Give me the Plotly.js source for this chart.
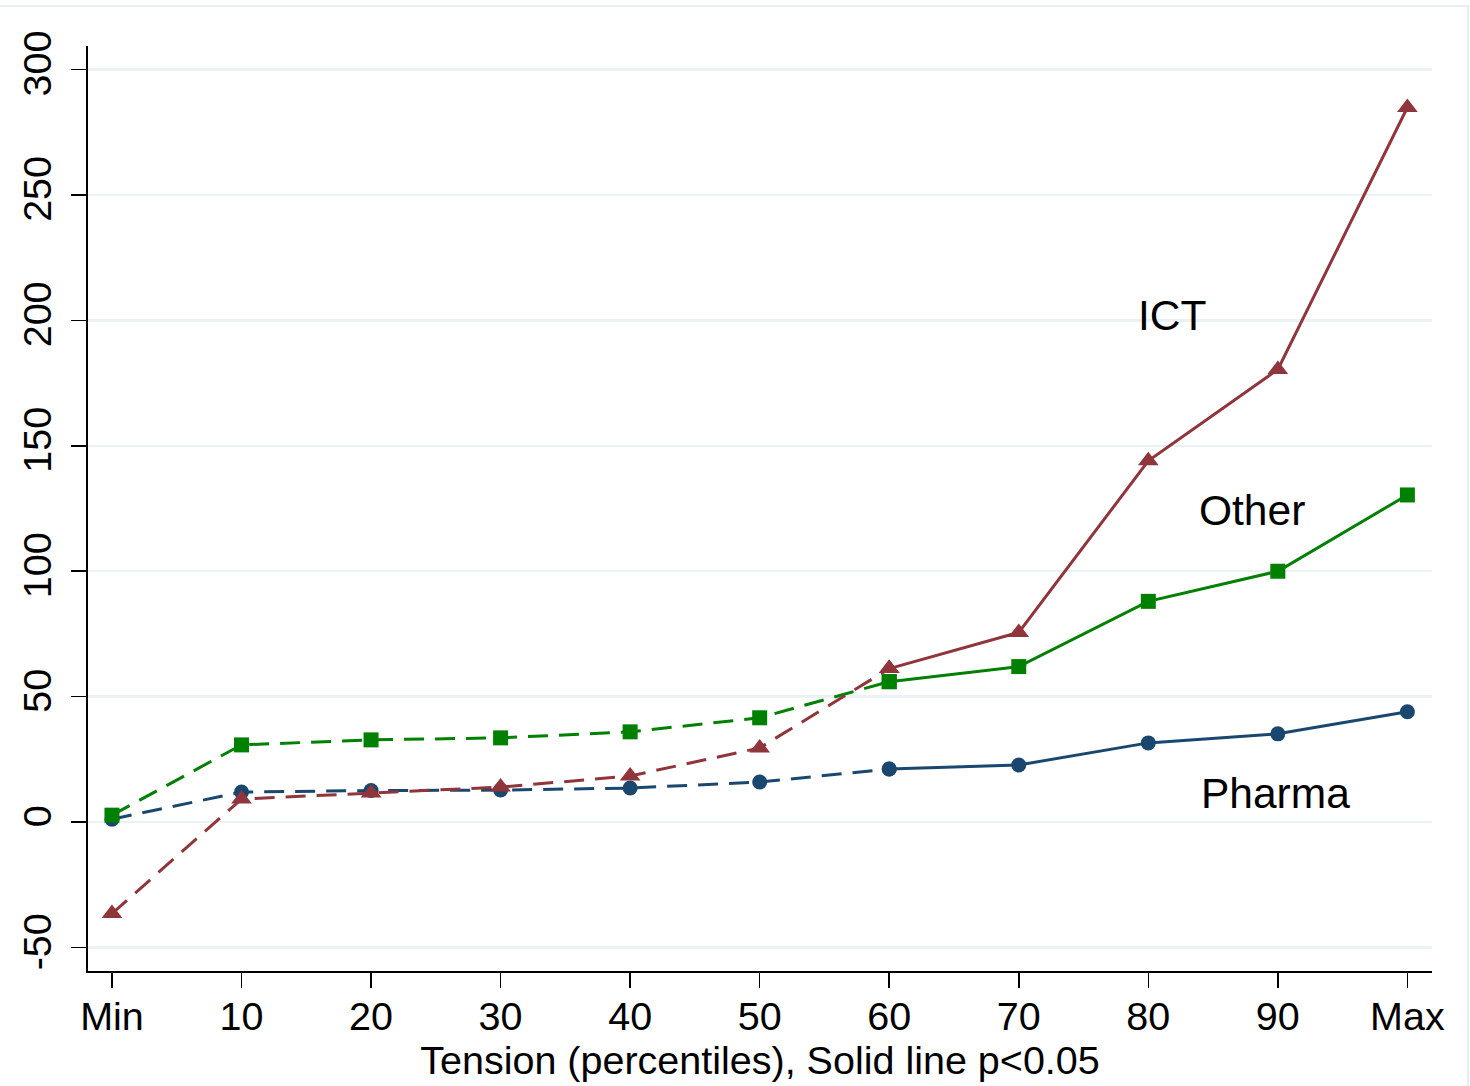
<!DOCTYPE html>
<html>
<head>
<meta charset="utf-8">
<script src="https://cdn.plot.ly/plotly-3.0.1.min.js"></script>
<style>
html,body{margin:0;padding:0;background:#fff;}
#chart{width:1470px;height:1086px;}
</style>
</head>
<body>
<div id="chart"></div>
<script>
// Data
const categories = ["Min","10","20","30","40","50","60","70","80","90","Max"];
const pharma = [1.2, 12, 12.6, 12.8, 13.6, 16, 21.2, 22.8, 31.6, 35.2, 44];
const other  = [2.8, 30.8, 32.8, 33.6, 36, 41.6, 56, 62, 88, 100, 130.4];
const ict    = [-36.4, 9.2, 11.6, 14, 18.4, 29.6, 61.2, 75.6, 144, 180.4, 284.8];
// index where significance (solid line) begins
const solidFrom = 6;
const labels = [
  {text: "ICT", x: 8.18, y: 202},
  {text: "Other", x: 8.80, y: 124.4},
  {text: "Pharma", x: 8.98, y: 11.6}
];
const yTicks = [-50, 0, 50, 100, 150, 200, 250, 300];

const seriesDefs = [
  {name: "Pharma", y: pharma, color: "#1a476f", symbol: "circle", size: 15},
  {name: "Other", y: other, color: "#008000", symbol: "square", size: 15},
  {name: "ICT", y: ict, color: "#90353b", symbol: "triangle-up", size: 18}
];

const traces = [];
seriesDefs.forEach(s => {
  traces.push({
    type: "scatter", mode: "lines+markers",
    x: categories.slice(0, solidFrom + 1), y: s.y.slice(0, solidFrom + 1),
    line: {color: s.color, width: 3, dash: "20px,11px"},
    marker: {color: s.color, symbol: s.symbol, size: s.size},
    showlegend: false, hoverinfo: "skip"
  });
  traces.push({
    type: "scatter", mode: "lines+markers",
    x: categories.slice(solidFrom), y: s.y.slice(solidFrom),
    line: {color: s.color, width: 3},
    marker: {color: s.color, symbol: s.symbol, size: s.size},
    showlegend: false, hoverinfo: "skip"
  });
});

const fontFam = "Liberation Sans, Arial, Helvetica, sans-serif";

const layout = {
  width: 1470, height: 1086,
  margin: {l: 88, r: 38, t: 46, b: 115},
  paper_bgcolor: "#ffffff", plot_bgcolor: "#ffffff",
  showlegend: false,
  font: {family: fontFam, color: "#000"},
  xaxis: {
    type: "category",
    categoryorder: "array", categoryarray: categories,
    range: [-0.185, 10.19],
    showgrid: false, zeroline: false,
    showline: true, linecolor: "#000", linewidth: 2,
    ticks: "outside", ticklen: 15, tickwidth: 1.5, tickcolor: "#000",
    ticklabelstandoff: -5,
    tickfont: {size: 39.5, family: fontFam, color: "#000"},
    title: {text: "Tension (percentiles), Solid line p<0.05", font: {size: 39.5, family: fontFam, color: "#000"}, standoff: 0}
  },
  yaxis: {
    range: [-59.3, 309.3],
    tickvals: yTicks,
    ticktext: yTicks.map(String),
    tickangle: -90,
    showgrid: true, gridcolor: "#eaf2f3", gridwidth: 2.5,
    zeroline: false,
    showline: true, linecolor: "#000", linewidth: 2,
    ticks: "outside", ticklen: 15, tickwidth: 1.5, tickcolor: "#000",
    ticklabelstandoff: 4,
    tickfont: {size: 39.5, family: fontFam, color: "#000"}
  },
  annotations: labels.map(l => ({
    x: l.x, y: l.y, xref: "x", yref: "y",
    text: l.text, showarrow: false,
    font: {size: 42.5, family: fontFam, color: "#000"},
    xanchor: "center", yanchor: "middle"
  })),
  shapes: [{
    type: "rect", xref: "paper", yref: "paper",
    x0: -0.07, x1: 1.0268, y0: -0.14, y1: 1.0432,
    line: {color: "#e6eef0", width: 2}, fillcolor: "rgba(0,0,0,0)", layer: "below"
  }]
};

Plotly.newPlot("chart", traces, layout, {displayModeBar: false, staticPlot: true});
</script>
</body>
</html>
